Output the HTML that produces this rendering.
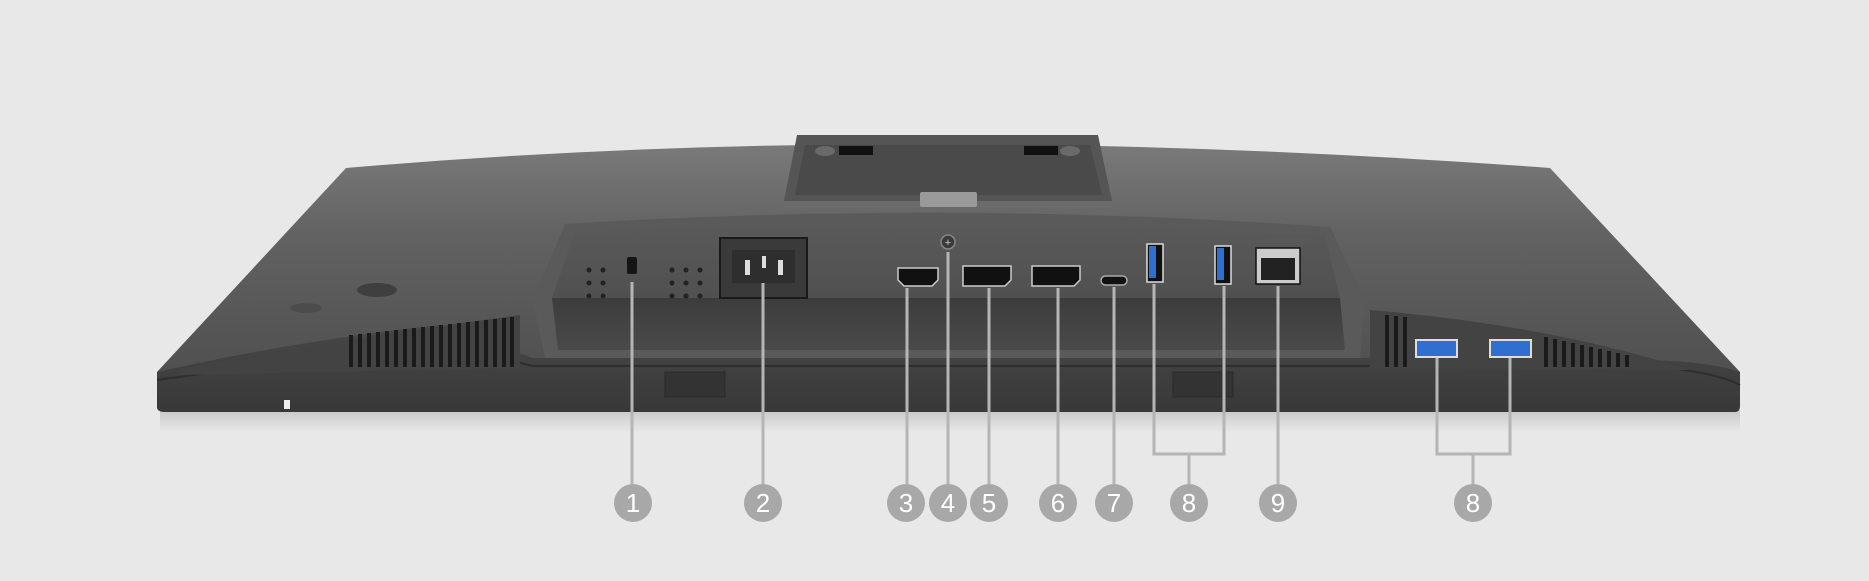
<!DOCTYPE html>
<html><head><meta charset="utf-8"><style>
html,body{margin:0;padding:0;background:#e8e8e8;}
svg{display:block;}
text{font-family:"Liberation Sans",sans-serif;}
</style></head><body>
<svg width="1869" height="581" viewBox="0 0 1869 581" xmlns="http://www.w3.org/2000/svg">
<defs>
<linearGradient id="top" x1="0" y1="0" x2="0" y2="1">
<stop offset="0" stop-color="#7a7a7a"/><stop offset="0.4" stop-color="#626262"/><stop offset="1" stop-color="#505050"/>
</linearGradient>
<linearGradient id="bar" x1="0" y1="0" x2="0" y2="1">
<stop offset="0" stop-color="#484848"/><stop offset="1" stop-color="#383838"/>
</linearGradient>
<linearGradient id="wall" x1="0" y1="0" x2="0" y2="1">
<stop offset="0" stop-color="#5a5a5a"/><stop offset="1" stop-color="#505050"/>
</linearGradient>
<linearGradient id="floor" x1="0" y1="0" x2="0" y2="1">
<stop offset="0" stop-color="#3c3c3c"/><stop offset="1" stop-color="#4a4a4a"/>
</linearGradient>
<linearGradient id="shadow" x1="0" y1="0" x2="0" y2="1">
<stop offset="0" stop-color="#c8c8c8"/><stop offset="1" stop-color="#e8e8e8"/>
</linearGradient>
</defs>
<rect width="1869" height="581" fill="#e8e8e8"/>
<rect x="160" y="410" width="1580" height="22" fill="url(#shadow)"/>
<path d="M157,372 L346,168 Q900,120 1550,168 L1740,372 Z" fill="url(#top)"/>
<path d="M157,372 L157,408 Q158,412 165,412 L1735,412 Q1740,412 1740,406 L1740,372 Q1700,358 1600,360 L1560,352 L1360,358 L533,358 L440,325 Q300,340 157,372 Z" fill="url(#bar)"/>
<path d="M157,380 Q300,360 440,344 L533,366 L1360,366 L1560,362 Q1700,364 1740,385" stroke="#2e2e2e" stroke-width="2" fill="none"/>
<path d="M180,370 Q300,345 520,315 L520,368 L180,375 Z" fill="#434343"/>
<g fill="#1a1a1a">
<rect x="349" y="335" width="4" height="32"/><rect x="358" y="334" width="4" height="33"/><rect x="367" y="333" width="4" height="34"/><rect x="376" y="332" width="4" height="35"/><rect x="385" y="331" width="4" height="36"/><rect x="394" y="330" width="4" height="37"/><rect x="403" y="329" width="4" height="38"/><rect x="412" y="328" width="4" height="39"/><rect x="421" y="327" width="4" height="40"/><rect x="430" y="326" width="4" height="41"/><rect x="439" y="325" width="4" height="42"/><rect x="448" y="324" width="4" height="43"/><rect x="457" y="323" width="4" height="44"/><rect x="466" y="322" width="4" height="45"/><rect x="475" y="321" width="4" height="46"/><rect x="484" y="320" width="4" height="47"/><rect x="493" y="319" width="4" height="48"/><rect x="502" y="318" width="4" height="49"/><rect x="510" y="317" width="4" height="50"/>
</g>
<path d="M1370,310 Q1550,325 1690,370 L1370,368 Z" fill="#434343"/>
<g fill="#1a1a1a">
<rect x="1385" y="315" width="4" height="52"/><rect x="1394" y="316" width="4" height="51"/><rect x="1403" y="317" width="4" height="50"/>
<rect x="1544" y="337" width="4" height="30"/><rect x="1553" y="339" width="4" height="28"/><rect x="1562" y="341" width="4" height="26"/><rect x="1571" y="343" width="4" height="24"/><rect x="1580" y="345" width="4" height="22"/><rect x="1589" y="347" width="4" height="20"/><rect x="1598" y="349" width="4" height="18"/><rect x="1607" y="351" width="4" height="16"/><rect x="1616" y="353" width="4" height="14"/><rect x="1625" y="355" width="4" height="12"/>
</g>
<path d="M565,224 Q950,200 1330,227 L1365,300 L1360,358 L545,358 L533,300 Z" fill="#5a5a5a"/>
<path d="M575,232 Q950,212 1325,236 L1340,298 L552,298 Z" fill="url(#wall)"/>
<path d="M552,298 L1340,298 L1345,350 L558,350 Z" fill="url(#floor)"/>
<path d="M797,135 L1098,135 L1112,201 L784,201 Z" fill="#555"/>
<path d="M805,145 L1090,145 L1102,195 L795,195 Z" fill="#4a4a4a"/>
<rect x="839" y="146" width="34" height="9" fill="#111"/><rect x="1024" y="146" width="34" height="9" fill="#111"/>
<ellipse cx="825" cy="151" rx="10" ry="5" fill="#6a6a6a"/><ellipse cx="1070" cy="151" rx="10" ry="5" fill="#6a6a6a"/>
<rect x="920" y="192" width="57" height="15" rx="2" fill="#9a9a9a"/>
<rect x="665" y="372" width="60" height="25" fill="#333" stroke="#2a2a2a"/>
<rect x="1173" y="372" width="60" height="25" fill="#333" stroke="#2a2a2a"/>
<rect x="284" y="400" width="6" height="9" fill="#eee"/>
<ellipse cx="306" cy="308" rx="16" ry="5" fill="#4c4c4c"/><ellipse cx="377" cy="290" rx="20" ry="7" fill="#3f3f3f"/>
<g fill="#222">
<circle cx="589" cy="270" r="2.5"/><circle cx="589" cy="283" r="2.5"/><circle cx="589" cy="296" r="2.5"/><circle cx="603" cy="270" r="2.5"/><circle cx="603" cy="283" r="2.5"/><circle cx="603" cy="296" r="2.5"/>
<circle cx="672" cy="270" r="2.5"/><circle cx="672" cy="283" r="2.5"/><circle cx="672" cy="296" r="2.5"/><circle cx="686" cy="270" r="2.5"/><circle cx="686" cy="283" r="2.5"/><circle cx="686" cy="296" r="2.5"/><circle cx="700" cy="270" r="2.5"/><circle cx="700" cy="283" r="2.5"/><circle cx="700" cy="296" r="2.5"/>
</g>
<rect x="627" y="257" width="10" height="17" rx="2" fill="#151515"/>
<rect x="720" y="238" width="87" height="60" fill="#3a3a3a" stroke="#1a1a1a" stroke-width="2"/>
<path d="M732,250 L795,250 L795,283 L732,283 Z" fill="#2e2e2e"/>
<rect x="745" y="260" width="5" height="15" fill="#ddd"/><rect x="762" y="256" width="4" height="12" fill="#ddd"/><rect x="778" y="260" width="5" height="15" fill="#ddd"/>
<path d="M898,268 L938,268 L938,280 L932,286 L904,286 L898,280 Z" fill="#111" stroke="#ccc" stroke-width="1.5"/>
<path d="M963,266 L1011,266 L1011,280 L1005,286 L963,286 Z" fill="#111" stroke="#ccc" stroke-width="1.5"/>
<path d="M1032,266 L1080,266 L1080,280 L1074,286 L1032,286 Z" fill="#111" stroke="#ccc" stroke-width="1.5"/>
<rect x="1101" y="276" width="26" height="9" rx="4.5" fill="#111" stroke="#aaa" stroke-width="1.5"/>
<rect x="1147" y="244" width="16" height="38" fill="#111" stroke="#ddd" stroke-width="1.5"/><rect x="1149" y="246" width="7" height="32" fill="#2f6fd0"/>
<rect x="1215" y="246" width="16" height="38" fill="#111" stroke="#ddd" stroke-width="1.5"/><rect x="1217" y="248" width="7" height="32" fill="#2f6fd0"/>
<rect x="1256" y="248" width="44" height="36" fill="#ccc" stroke="#111" stroke-width="1.5"/>
<rect x="1261" y="258" width="34" height="22" fill="#222"/>
<rect x="1416" y="340" width="41" height="17" fill="#2f6fd0" stroke="#ddd" stroke-width="2"/>
<rect x="1490" y="340" width="41" height="17" fill="#2f6fd0" stroke="#ddd" stroke-width="2"/>
<g stroke="#b5b5b5" stroke-width="3" fill="none">
<line x1="632" y1="282" x2="632" y2="484"/>
<line x1="763" y1="283" x2="763" y2="484"/>
<line x1="907" y1="288" x2="907" y2="484"/>
<line x1="948" y1="252" x2="948" y2="484"/>
<line x1="989" y1="288" x2="989" y2="484"/>
<line x1="1058" y1="288" x2="1058" y2="484"/>
<line x1="1114" y1="287" x2="1114" y2="484"/>
<polyline points="1154,284 1154,454 1224,454 1224,286"/>
<line x1="1189" y1="454" x2="1189" y2="484"/>
<line x1="1278" y1="286" x2="1278" y2="484"/>
<polyline points="1437,358 1437,454 1510,454 1510,358"/>
<line x1="1473" y1="454" x2="1473" y2="484"/>
</g>
<circle cx="948" cy="242" r="7" fill="#3a3a3a" stroke="#888" stroke-width="1.5"/>
<text x="948" y="246" font-size="11" fill="#ccc" text-anchor="middle">+</text>
<g fill="#a8a8a8">
<circle cx="633" cy="503" r="19"/><circle cx="763" cy="503" r="19"/><circle cx="906" cy="503" r="19"/><circle cx="948" cy="503" r="19"/><circle cx="989" cy="503" r="19"/><circle cx="1058" cy="503" r="19"/><circle cx="1114" cy="503" r="19"/><circle cx="1189" cy="503" r="19"/><circle cx="1278" cy="503" r="19"/><circle cx="1473" cy="503" r="19"/>
</g>
<g fill="#fff" font-size="26" text-anchor="middle">
<text x="633" y="512">1</text><text x="763" y="512">2</text><text x="906" y="512">3</text><text x="948" y="512">4</text><text x="989" y="512">5</text><text x="1058" y="512">6</text><text x="1114" y="512">7</text><text x="1189" y="512">8</text><text x="1278" y="512">9</text><text x="1473" y="512">8</text>
</g>
</svg>
</body></html>
